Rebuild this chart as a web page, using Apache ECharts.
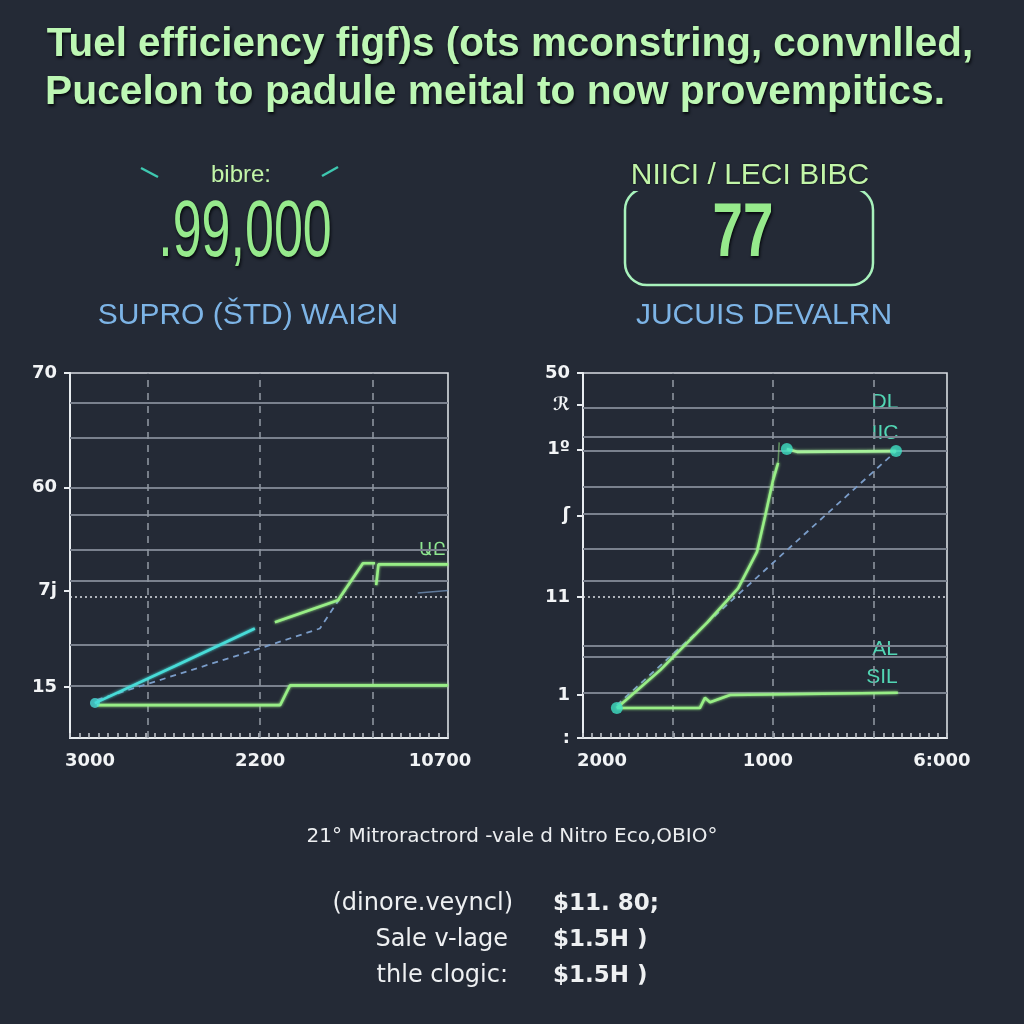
<!DOCTYPE html>
<html><head><meta charset="utf-8">
<script src="https://cdn.jsdelivr.net/npm/echarts@6/dist/echarts.min.js"></script>
<style>html,body{margin:0;padding:0;background:#242a36;}#c{width:1024px;height:1024px;}</style>
</head><body><div id="c"></div>
<script>
// ---------- data ----------
const titleLines = ['Tuel efficiency figf)s (ots mconstring, convnlled,', 'Pucelon to padule meital to now provempitics.'];
const leftKpiLabel = 'bibre:';
const leftKpiValue = '.99,000';
const leftChartTitle = 'SUPRO (ŠTD) WAIƧN';
const rightKpiLabel = 'NIICI / LECI BIBC';
const rightKpiValue = '77';
const rightChartTitle = 'JUCUIS DEVALRN';
const footNote = '21° Mitroractrord -vale d Nitro Eco,OBIO°';
const tableKeys = ['(dinore.veyncl)', 'Sale v-lage', 'thle clogic:'];
const tableVals = ['$11. 80;', '$1.5H )', '$1.5H )'];

// left chart axes
const leftXTickValues = [5.3, 50.3, 97.9];
const leftXTickLabels = ['3000', '2200', '10700'];
const leftYTickValues = [70, 48, 28.3, 9.8];
const leftYTickLabels = ['70', '60', '7j', '15'];
const leftHGrid = [64.3, 57.6, 48, 42.8, 36.1, 30.2, 17.8, 10.1];
const leftVGrid = [20.6, 50.3, 80.2];
const leftRef = 27;

// left chart series
const leftA1 = [[6.6, 6.7], [27.8, 13.8], [48.9, 21.0]];
const leftA2 = [[54.2, 22.2], [70.9, 26.4], [77.5, 33.5], [80.7, 33.5]];
const leftA3 = [[81, 29.3], [81.6, 33.3], [100, 33.3]];
const leftB = [[7.1, 7.3], [50.3, 17.2], [66.1, 21.0], [71.4, 26.8], [77.5, 33.5]];
const leftB2 = [[92, 27.8], [100, 28.3]];
const leftC = [[7.1, 6.3], [55.6, 6.3], [58.2, 10.1], [100, 10.1]];
const leftStart = [[6.6, 6.7]];

// right chart axes
const rightXTickValues = [5.2, 50.8, 98.6];
const rightXTickLabels = ['2000', '1000', '6:000'];
const rightYTickValues = [50, 45.6, 39.5, 30.5, 19.3, 5.9, 0];
const rightYTickLabels = ['50', 'ℛ', '1º', 'ʃ', '11', '1', ':'];
const rightHGrid = [45.2, 41.2, 39.3, 34.4, 30.7, 25.9, 21.5, 12.6, 11.1, 6.2];
const rightVGrid = [24.7, 52.2, 80];
const rightRef = 19.3;

// right chart series
const rightD = [[9.3, 4.1], [21.2, 9.3], [34.1, 15.8], [42.6, 20.5], [47.8, 25.5], [50, 30.3], [52.2, 35.3], [53.6, 37.7]];
const rightDTail = [[53.6, 37.7], [53.9, 40.5]];
const rightD2 = [[56, 39.6], [58.8, 39.2], [86, 39.3]];
const rightE = [[9.3, 4.5], [52.2, 24], [86, 39.3]];
const rightF = [[9.3, 4.1], [32.1, 4.1], [33.5, 5.5], [34.9, 4.9], [40.4, 5.9], [86.5, 6.2]];
const rightDots = [[9.3, 4.1], [56, 39.6], [86, 39.3]];
const rightTags = ['DL', 'IIC', 'AL', 'SIL'];
const leftTag = 'ԱԸ';

// ---------- chart ----------
const chart = echarts.init(document.getElementById('c'));
const GREEN = '#98ee86', CYAN = '#48dcd8', DASH = '#7a9cc8', GRIDC = '#7a818e';
const font = '"Liberation Sans",Arial,sans-serif';
const dfont = '"DejaVu Sans",sans-serif';

function pick(vals, labels) {
  return v => { const i = vals.findIndex(t => Math.abs(t - v) < 1e-6); return i >= 0 ? labels[i] : ''; };
}
function xAxis(gi, vals, labels) {
  return {
    type: 'value', gridIndex: gi, min: 0, max: 100, interval: 2.5,
    axisLine: { show: true, lineStyle: { color: '#e8ecf0', width: 2 } },
    axisTick: { show: true, inside: true, length: 5, lineStyle: { color: '#c8ccd2', width: 1.5 } },
    splitLine: { show: false },
    axisLabel: { customValues: vals, margin: 14, color: '#f2f4f6', fontSize: 18, fontWeight: 'bold', fontFamily: dfont, formatter: pick(vals, labels) }
  };
}
function yAxis(gi, max, vals, labels) {
  return {
    type: 'value', gridIndex: gi, min: 0, max: max,
    axisLine: { show: true, lineStyle: { color: '#e8ecf0', width: 2 } },
    axisTick: { show: true, customValues: vals, length: 6, lineStyle: { color: '#e8ecf0', width: 2 } },
    splitLine: { show: false },
    axisLabel: { customValues: vals, margin: 13, color: '#f2f4f6', fontSize: 18, fontWeight: 'bold', fontFamily: dfont, formatter: pick(vals, labels) }
  };
}
function gridLines(h, v, ref) {
  const d = [];
  h.forEach(y => d.push({ yAxis: y, lineStyle: { color: GRIDC, width: 1.8, type: 'solid' } }));
  v.forEach(x => d.push({ xAxis: x, lineStyle: { color: '#8d949f', width: 1.6, type: [7, 6] } }));
  d.push({ yAxis: ref, lineStyle: { color: '#dde1e6', width: 1.6, type: [2, 3] } });
  return { silent: true, symbol: 'none', label: { show: false }, animation: false, data: d };
}
function line(xi, data, color, opts) {
  return Object.assign({
    type: 'line', xAxisIndex: xi, yAxisIndex: xi, data: data, showSymbol: false, symbol: 'none',
    lineStyle: { color: color, width: 2.6, shadowColor: color, shadowBlur: 3 }, animation: false, z: 5
  }, opts || {});
}
function txt(text, x, y, f, fill, extra) {
  return Object.assign({ type: 'text', x: x, y: y, style: Object.assign({ text: text, font: f, fill: fill, align: 'center', verticalAlign: 'middle' }, extra || {}) });
}
const shadow = { textShadowColor: '#05080c', textShadowBlur: 3, textShadowOffsetX: 1, textShadowOffsetY: 2 };

const option = {
  backgroundColor: '#242a36',
  animation: false,
  grid: [
    { left: 70, top: 373, width: 378, height: 365, show: true, borderColor: '#d8dce2', borderWidth: 1.6, backgroundColor: 'transparent' },
    { left: 583, top: 373, width: 364, height: 365, show: true, borderColor: '#d8dce2', borderWidth: 1.6, backgroundColor: 'transparent' }
  ],
  xAxis: [xAxis(0, leftXTickValues, leftXTickLabels), xAxis(1, rightXTickValues, rightXTickLabels)],
  yAxis: [yAxis(0, 70, leftYTickValues, leftYTickLabels), yAxis(1, 50, rightYTickValues, rightYTickLabels)],
  series: [
    line(0, leftC, GREEN, { markLine: gridLines(leftHGrid, leftVGrid, leftRef) }),
    line(0, leftB, DASH, { lineStyle: { color: DASH, width: 1.8, type: [6, 5] } }),
    line(0, leftB2, DASH, { lineStyle: { color: DASH, width: 1.5, opacity: 0.7 } }),
    line(0, leftA1, CYAN),
    line(0, leftA2, GREEN),
    line(0, leftA3, GREEN),
    { type: 'scatter', xAxisIndex: 0, yAxisIndex: 0, data: leftStart, symbolSize: 10, itemStyle: { color: CYAN }, z: 6 },

    line(1, rightF, GREEN, { markLine: gridLines(rightHGrid, rightVGrid, rightRef) }),
    line(1, rightE, DASH, { lineStyle: { color: DASH, width: 1.8, type: [6, 5] } }),
    line(1, rightD, GREEN),
    line(1, rightDTail, GREEN, { lineStyle: { color: GREEN, width: 1.6, opacity: 0.5 } }),
    line(1, rightD2, '#a6f09a'),
    { type: 'scatter', xAxisIndex: 1, yAxisIndex: 1, data: rightDots, symbolSize: 12, itemStyle: { color: '#3ee0c4' }, z: 6 }
  ],
  graphic: [
    Object.assign(txt(titleLines[0], 510, 45, 'bold 40px ' + font, '#bdf7b4', shadow), { scaleX: 1.01 }),
    Object.assign(txt(titleLines[1], 495, 93, 'bold 40px ' + font, '#bdf7b4', shadow), { scaleX: 1.02 }),

    txt(leftKpiLabel, 241, 175, '24px ' + font, '#c2f5a8'),
    { type: 'line', shape: { x1: 141, y1: 168, x2: 158, y2: 177 }, style: { stroke: '#3ec8b0', lineWidth: 2.5 } },
    { type: 'line', shape: { x1: 322, y1: 176, x2: 338, y2: 167 }, style: { stroke: '#3ec8b0', lineWidth: 2.5 } },
    Object.assign(txt(leftKpiValue, 245, 234, '80px ' + font, '#96ea8c', shadow), { scaleX: 0.65 }),
    txt(leftChartTitle, 248, 316, '30px ' + font, '#7db4e6'),

    { type: 'rect', shape: { x: 625, y: 188, width: 248, height: 97, r: 22 }, style: { fill: 'transparent', stroke: '#a8f2bc', lineWidth: 2.5 } },
    txt(rightKpiLabel, 750, 176, '30px ' + font, '#c2f5a8', { backgroundColor: '#242a36', textShadowColor: '#05080c', textShadowBlur: 2 }),
    Object.assign(txt(rightKpiValue, 743, 235, 'bold 76px ' + font, '#96ea8c', shadow), { scaleX: 0.72 }),
    txt(rightChartTitle, 764, 316, '30px ' + font, '#7db4e6'),

    txt(leftTag, 432, 550, '18px ' + font, '#8ee690'),
    txt(rightTags[0], 885, 402, '21px ' + font, '#52d6b4'),
    txt(rightTags[1], 885, 433, '21px ' + font, '#52d6b4'),
    txt(rightTags[2], 885, 649, '21px ' + font, '#52d6b4'),
    txt(rightTags[3], 882, 677, '21px ' + font, '#52d6b4'),

    txt(footNote, 512, 837, '20px ' + dfont, '#eceef0'),
    txt(tableKeys[0], 513, 904, '24px ' + dfont, '#eef0f2', { align: 'right' }),
    txt(tableKeys[1], 508, 940, '24px ' + dfont, '#eef0f2', { align: 'right' }),
    txt(tableKeys[2], 508, 976, '24px ' + dfont, '#eef0f2', { align: 'right' }),
    txt(tableVals[0], 553, 904, 'bold 23px ' + dfont, '#eef0f2', { align: 'left' }),
    txt(tableVals[1], 553, 940, 'bold 23px ' + dfont, '#eef0f2', { align: 'left' }),
    txt(tableVals[2], 553, 976, 'bold 23px ' + dfont, '#eef0f2', { align: 'left' })
  ]
};
chart.setOption(option);
</script>
</body></html>
